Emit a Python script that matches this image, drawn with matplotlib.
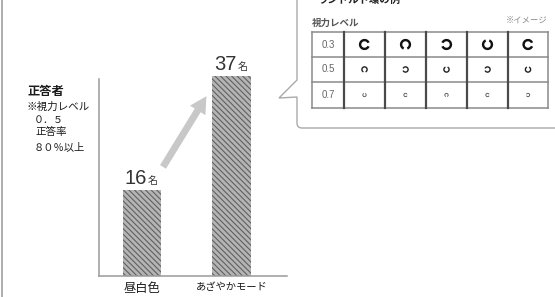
"""Bar chart: 正答者数 (昼白色 vs あざやかモード) with Landolt-ring sample table."""
import matplotlib
matplotlib.use("Agg")
import matplotlib.pyplot as plt
from matplotlib.patches import Wedge
from matplotlib.path import Path
from matplotlib.patches import PathPatch

plt.rcParams["font.family"] = ["Noto Sans CJK JP", "DejaVu Sans"]
plt.rcParams["hatch.linewidth"] = 0.8

# data
categories = ["昼白色", "あざやかモード"]
values = [16, 37]
unit = "名"
note_lines = ["正答者", "※視力レベル", "０．５", "正答率", "８０％以上"]

levels = ["0.3", "0.5", "0.7"]
# gap direction of each ring (degrees, 0=right, 90=top, 180=left, 270=bottom)
gaps = [
    [0, 270, 180, 90, 0],
    [270, 180, 90, 180, 90],
    [90, 0, 270, 0, 180],
]
ring_r = [5.6, 3.3, 2.1]
ring_w = [2.4, 1.4, 0.9]
ring_c = ["#111111", "#222222", "#555555"]

W, H = 555, 297
fig = plt.figure(figsize=(W / 100, H / 100), dpi=100)

# background layer in pixel coordinates (y down)
bg = fig.add_axes([0, 0, 1, 1])
bg.set_xlim(0, W)
bg.set_ylim(H, 0)
bg.axis("off")

bg.plot([2, 2], [0, H], color="#a0a0a0", lw=1.2)

# callout box with pointer
verts = [(297, -10), (297, 80), (279, 98), (297, 97), (297, 123),
         (297, 128), (302, 128), (570, 128)]
codes = [Path.MOVETO, Path.LINETO, Path.LINETO, Path.LINETO, Path.LINETO,
         Path.CURVE3, Path.CURVE3, Path.LINETO]
bg.add_patch(PathPatch(Path(verts, codes), fill=False, ec="#aaaaaa", lw=1))

# title of the callout, cut by the top edge as in the source
bg.text(318, 5, "ランドルト環の例", fontsize=7.5, fontweight="bold",
        color="#222222", ha="left", va="bottom")
bg.text(312, 22.5, "視力レベル", fontsize=6.8, fontweight="bold",
        color="#555555", ha="left", va="center")
bg.text(548, 20.5, "※イメージ", fontsize=6, color="#888888",
        ha="right", va="center")

# table
col_x = [312, 344, 385, 426, 467, 508, 548]
row_y = [32, 57, 82, 108]
for y in row_y:
    bg.plot([col_x[0], col_x[-1]], [y, y], color="#8a8a8a", lw=1.1)
for i, x in enumerate(col_x):
    outer = i in (0, len(col_x) - 1)
    bg.plot([x, x], [row_y[0], row_y[-1]],
            color="#8a8a8a" if outer else "#4a4a4a", lw=1.1 if outer else 1.6)

for r, lev in enumerate(levels):
    cy = (row_y[r] + row_y[r + 1]) / 2
    bg.text((col_x[0] + col_x[1]) / 2, cy, lev, fontsize=7, color="#666666",
            ha="center", va="center", family=["Liberation Sans"])
    for c, g in enumerate(gaps[r]):
        cx = (col_x[c + 1] + col_x[c + 2]) / 2
        a = -g  # y axis is inverted
        bg.add_patch(Wedge((cx, cy), ring_r[r], a + 24, a + 336,
                           width=ring_w[r], color=ring_c[r], lw=0))

# note text on the left
note_y = [91, 107, 120, 132, 147]
note_x = [27, 27, 34, 35, 34]
note_fs = [8.8, 7.6, 7.2, 7.6, 7.4]
for i, line in enumerate(note_lines):
    bg.text(note_x[i], note_y[i], line, fontsize=note_fs[i],
            fontweight="bold" if i == 0 else "normal", color="#1a1a1a",
            ha="left", va="center")

# bar chart
ax = fig.add_axes([99 / W, (H - 276) / H, 188 / W, 216 / H])
ax.patch.set_alpha(0)
x = list(range(len(categories)))
ax.bar(x, values, width=0.425, color="#b4b4b4", edgecolor="#606060",
       linewidth=0, hatch="\\\\\\\\\\\\")
ax.set_xlim(-0.48, 1.62)
ax.set_ylim(0, 40)
for s in ("top", "right"):
    ax.spines[s].set_visible(False)
for s in ("left", "bottom"):
    ax.spines[s].set_color("#9a9a9a")
    ax.spines[s].set_linewidth(1.1)
ax.spines["left"].set_bounds(0, 36.5)
ax.set_yticks([])
ax.set_xticks(x)
ax.set_xticklabels(categories)
ax.tick_params(axis="x", length=0, pad=4.5)
for lab, fs in zip(ax.get_xticklabels(), [8.8, 7.4]):
    lab.set_fontsize(fs)
    lab.set_color("#1a1a1a")

for xi, v in zip(x, values):
    ax.annotate(str(v), xy=(xi, v), xytext=(5, 6), textcoords="offset pixels",
                ha="right", va="baseline", fontsize=14.5, color="#333333",
                family=["Liberation Sans"])
    ax.annotate(unit, xy=(xi, v), xytext=(6, 6), textcoords="offset pixels",
                ha="left", va="baseline", fontsize=7.2, color="#333333")

# arrow from the small bar to the tall bar
ax.annotate("", xy=(x[1] - 0.28, values[1] - 3.7),
            xytext=(x[0] + 0.235, values[0] + 4.2),
            arrowprops=dict(arrowstyle="simple,head_width=1.3,head_length=1.2,tail_width=0.5",
                            color="#c8c8c8", lw=0, shrinkA=0, shrinkB=0),
            annotation_clip=False)

fig.savefig("out.png", dpi=100)
